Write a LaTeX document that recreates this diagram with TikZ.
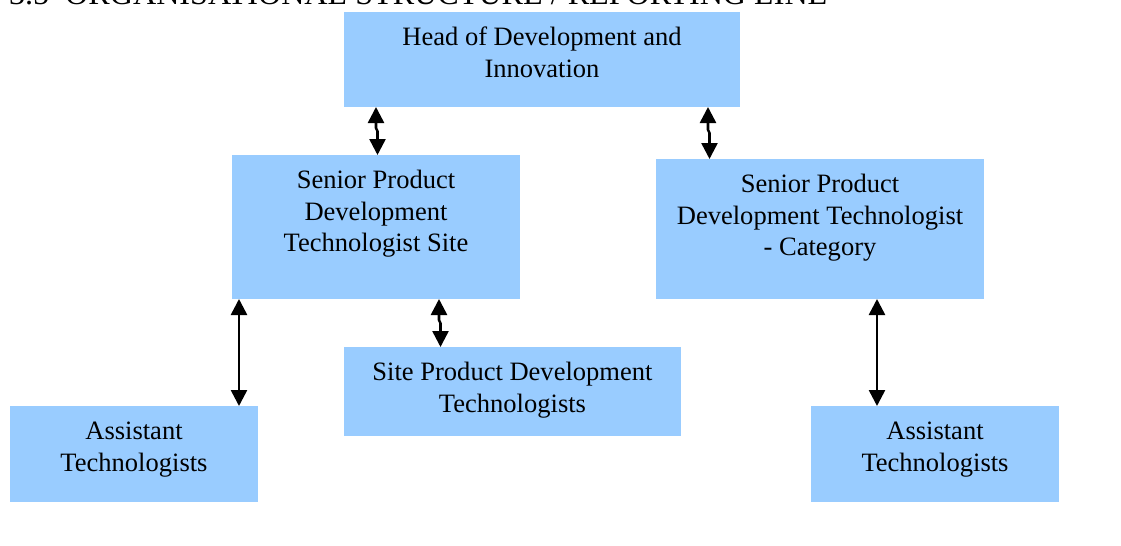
\documentclass[tikz,border=0pt]{standalone}
\usepackage{fontspec}
\setmainfont{Liberation Serif}
\usetikzlibrary{arrows.meta,calc}

\definecolor{boxblue}{RGB}{153,204,255}

% box content: top-aligned, centred lines
\newcommand\boxtext[3]{\parbox[t][#2][t]{#1}{\centering\rule{0pt}{25.2pt}#3}}
% double-headed connector with a small jog halfway
\newcommand\jogrel[2]{\draw[rel] (#1) -- ($(#1)!0.44!(#2)$) -- ++(1.5,3) -- ($(#2)+(1.5,0)$);}

\tikzset{
  orgbox/.style={fill=boxblue, inner sep=0pt, outer sep=0pt, anchor=north west,
    font=\fontsize{19.9pt}{23.55pt}\selectfont},
  rel/.style={line width=1.9pt, line join=round,
    {Triangle[width=12pt,length=12pt]}-{Triangle[width=12pt,length=12pt]}},
}

\begin{document}
\begin{tikzpicture}[x=0.75pt,y=-0.75pt]
\clip (0,0) rectangle (1121,546);
\fill[white] (0,0) rectangle (1121,546);

% section heading, cut by the top edge
\node[anchor=base west, inner sep=0pt, font=\fontsize{24.1pt}{28pt}\selectfont] (title) at (65,4)
  {\llap{3.5\hspace{12pt}}ORGANISATIONAL STRUCTURE / REPORTING LINE};

% boxes
\node[orgbox] (head) at (344,12)  {\boxtext{297pt}{71.25pt}{Head of Development and\\Innovation}};
\node[orgbox] (sps)  at (232,155) {\boxtext{216pt}{108pt}{Senior Product\\Development\\Technologist Site}};
\node[orgbox] (spc)  at (656,159) {\boxtext{246pt}{105pt}{Senior Product\\Development Technologist\\- Category}};
\node[orgbox] (spd)  at (344,347) {\boxtext{252.75pt}{66.75pt}{Site Product Development\\Technologists}};
\node[orgbox] (asl)  at (10,406)  {\boxtext{186pt}{72pt}{Assistant\\Technologists}};
\node[orgbox] (asr)  at (811,406) {\boxtext{186pt}{72pt}{Assistant\\Technologists}};

% connector end points
\coordinate (a1) at (sps.north |- head.south);
\coordinate (a2) at ($(head.south east)+(-32,0)$);
\coordinate (a2b) at (a2 |- spc.north);
\coordinate (a3) at ($(sps.south)+(63,0)$);
\coordinate (a3b) at (a3 |- spd.north);
\coordinate (a4) at ($(sps.south west)+(7,0)$);
\coordinate (a5) at ($(spc.south)+(57,0)$);

% reporting lines
\jogrel{a1}{sps.north}
\jogrel{a2}{a2b}
\jogrel{a3}{a3b}
\draw[rel] (a4) -- (a4 |- asl.north);
\draw[rel] (a5) -- (a5 |- asr.north);
\end{tikzpicture}
\end{document}
